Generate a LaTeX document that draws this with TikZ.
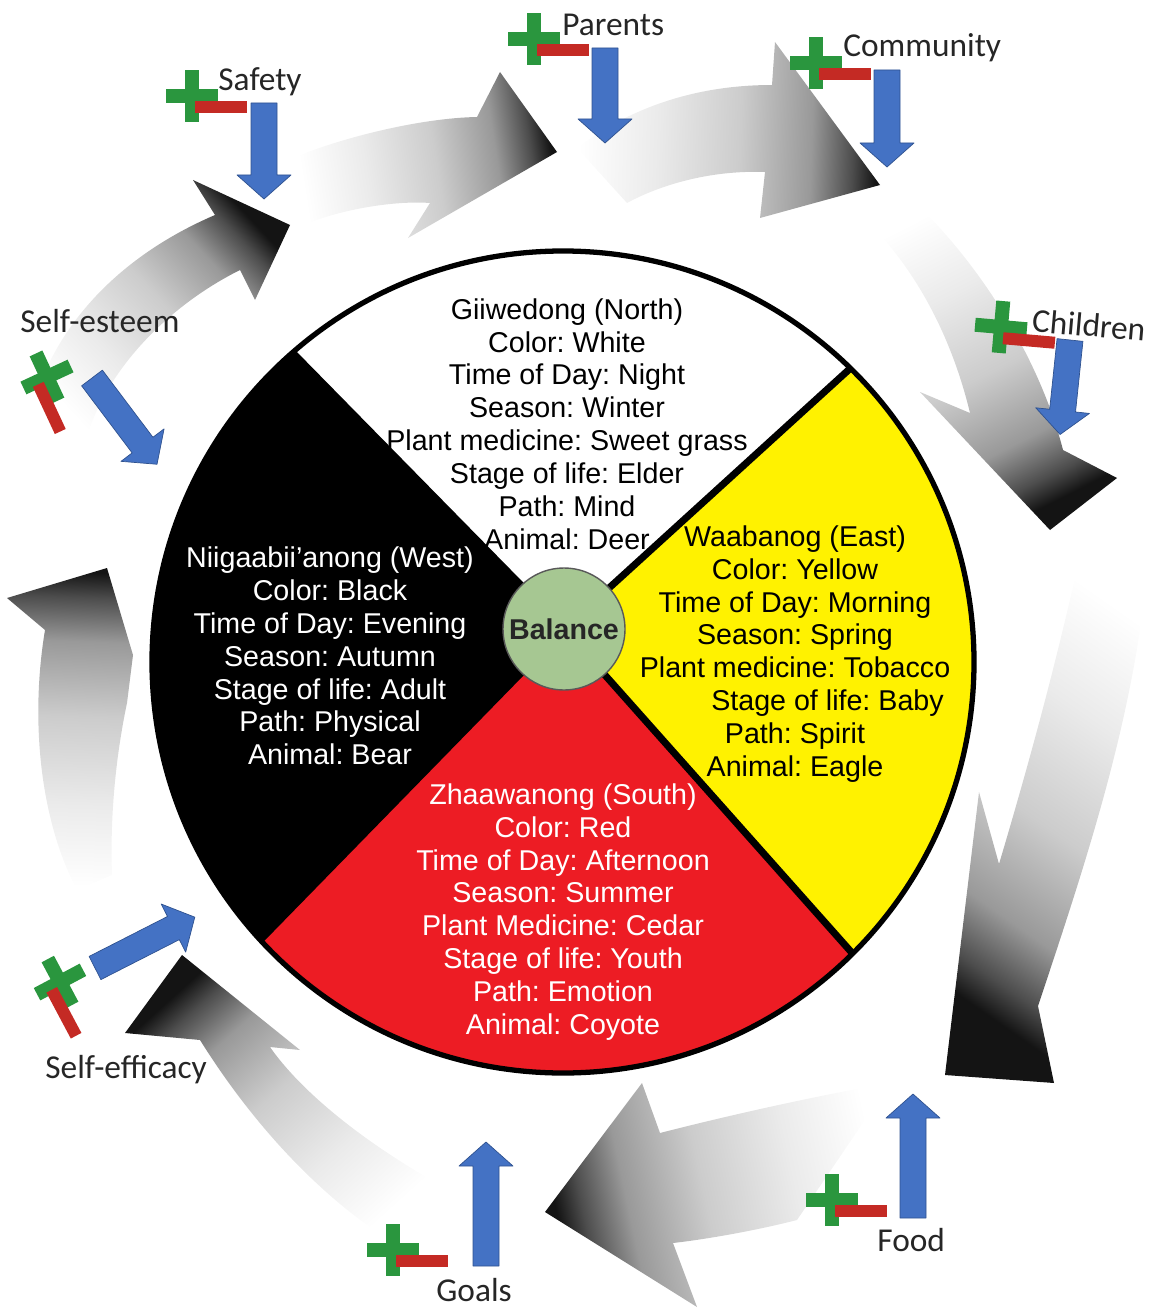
\documentclass[tikz,border=0pt]{standalone}
\usepackage{fontspec}
\setmainfont{Liberation Sans}
\newfontfamily\calibri{Carlito}
\frenchspacing
\usetikzlibrary{calc}

\definecolor{wheelred}{RGB}{237,28,36}
\definecolor{wheelyellow}{RGB}{255,242,0}
\definecolor{balgreen}{RGB}{166,199,146}
\definecolor{arrblue}{RGB}{68,114,196}
\definecolor{arrblueline}{RGB}{47,82,143}
\definecolor{plusgreen}{RGB}{42,150,62}
\definecolor{minusred}{RGB}{196,42,36}

\pgfdeclareverticalshading{ringshade}{100bp}{color(0bp)=(white); color(25bp)=(white); color(38bp)=(black!8); color(52bp)=(black!20); color(64bp)=(black!40); color(71bp)=(black!70); color(75bp)=(black!92); color(100bp)=(black!92)}

\tikzset{
  ringarrow/.style={shading=ringshade},
  wheeltext/.style={align=center, inner sep=0pt, font=\fontsize{16.3}{18.7}\selectfont},
  outerlabel/.style={inner sep=0pt, anchor=west, text=black!85, font=\calibri\fontsize{19}{22}\selectfont},
  pics/plusminus/.style={code={
    \fill[plusgreen] (-26,-7) rectangle (26,7);
    \fill[plusgreen] (-7,-26) rectangle (7,26);
    \fill[minusred] (3,5) rectangle (55,17);
  }},
  pics/bluearrow/.style={code={
    \filldraw[fill=arrblue, draw=arrblueline, line width=0.4pt]
      (0,-13) -- (#1-24,-13) -- (#1-24,-27) -- (#1,0) -- (#1-24,27) -- (#1-24,13) -- (0,13) -- cycle;
  }},
}

\begin{document}
\begin{tikzpicture}[x=0.02cm,y=-0.02cm,line join=round]
\useasboundingbox (0,0) rectangle (1152,1311);

% grey ring arrows
\shade[ringarrow,shading angle=-47] (25,440) .. controls (40,340) and (110,260) .. (215,215) -- (193,180) -- (290,225) -- (255,300) -- (240,270) .. controls (160,310) and (100,380) .. (85,445) -- cycle;
\shade[ringarrow,shading angle=-81] (293,158) .. controls (340,138) and (420,118) .. (477,117) -- (500,72) -- (557,152) -- (408,238) -- (430,203) .. controls (390,200) and (330,212) .. (300,227) -- cycle;
\shade[ringarrow,shading angle=-92] (577,148) .. controls (640,100) and (710,85) .. (772,85) -- (775,42) -- (880,185) -- (760,218) -- (765,172) .. controls (710,170) and (660,185) .. (627,203) -- cycle;
\shade[ringarrow,shading angle=-153] (900,188) .. controls (980,260) and (1040,360) .. (1063,450) -- (1117,478) -- (1050,530) -- (920,392) -- (970,413) .. controls (950,330) and (910,260) .. (860,215) -- cycle;
\shade[ringarrow,shading angle=145] (1085,532) .. controls (1060,650) and (1030,760) .. (999,864) -- (979,792) -- (945,1075) -- (1054,1083) -- (1038,1006) .. controls (1090,850) and (1140,700) .. (1150,536) -- cycle;
\shade[ringarrow,shading angle=102] (545,1212) -- (642,1083) -- (660,1133) .. controls (730,1115) and (820,1095) .. (890,1083) -- (797,1220) .. controls (750,1232) and (700,1240) .. (673,1243) -- (697,1307) -- cycle;
\shade[ringarrow,shading angle=42] (182,955) -- (125,1033) -- (200,1040) .. controls (250,1120) and (320,1200) .. (405,1250) -- (440,1185) .. controls (360,1140) and (300,1090) .. (270,1047) -- (300,1050) -- cycle;
\shade[ringarrow,shading angle=-2] (77,890) .. controls (40,820) and (30,720) .. (45,630) -- (7,598) -- (107,568) -- (133,655) -- (127,703) .. controls (115,760) and (110,820) .. (112,875) -- cycle;

% medicine wheel
\coordinate (bal) at (564,629);
\begin{scope}
\clip (563,662) circle [radius=411];
\fill[white] (bal) -- (-252,-202) -- (1401,-133) -- cycle;
\fill[wheelyellow] (bal) -- (1401,-133) -- (1407,1577) -- cycle;
\fill[wheelred] (bal) -- (1407,1577) -- (-312,1526) -- cycle;
\fill[black] (bal) -- (-312,1526) -- (-252,-202) -- cycle;
\draw[line width=4pt] (bal) -- (-252,-202);
\draw[line width=4pt] (bal) -- (1401,-133);
\draw[line width=4pt] (bal) -- (1407,1577);
\draw[line width=4pt] (bal) -- (-312,1526);
\end{scope}
\draw[line width=3pt] (563,662) circle [radius=411];

\node[wheeltext] (north) at (567,424) {Giiwedong (North)\\Color: White\\Time of Day: Night\\Season: Winter\\Plant medicine: Sweet grass\\Stage of life: Elder\\Path: Mind\\Animal: Deer};
\node[wheeltext,text=white] (west) at (330,656) {Niigaabii'anong (West)\\Color: Black\\Time of Day: Evening\\Season: Autumn\\Stage of life: Adult\\Path: Physical\\Animal: Bear};
\node[wheeltext] (east) at (795,654) {Waabanog (East)\\Color: Yellow\\Time of Day: Morning\\Season: Spring\\Plant medicine: Tobacco\\\hspace*{1.3cm}Stage of life: Baby\\Path: Spirit\\Animal: Eagle};
\node[wheeltext,text=white] (south) at (563,912) {Zhaawanong (South)\\Color: Red\\Time of Day: Afternoon\\Season: Summer\\Plant Medicine: Cedar\\Stage of life: Youth\\Path: Emotion\\Animal: Coyote};

\node[circle, fill=balgreen, draw=black!65, line width=0.8pt, minimum size=2.44cm, inner sep=0pt, font=\bfseries\fontsize{16.3}{18}\selectfont, text=black!85] (balance) at (bal) {Balance};

% influences
\pic[rotate=-90] at (264,103) {bluearrow=96};
\pic at (192,96) {plusminus};
\node[outerlabel] (safety) at (218,82) {Safety};

\pic[rotate=-90] at (605,48) {bluearrow=95};
\pic at (534,39) {plusminus};
\node[outerlabel] (parents) at (562,25) {Parents};

\pic[rotate=-90] at (887,70) {bluearrow=97};
\pic at (816,63) {plusminus};
\node[outerlabel] (community) at (843,48) {Community};

\pic[rotate=-96] at (1070,340) {bluearrow=95};
\pic[rotate=-5] at (1001,327) {plusminus};
\node[outerlabel,rotate=-5] (children) at (1032,320) {Children};

\pic[rotate=90] at (913,1218) {bluearrow=124};
\pic at (832,1200) {plusminus};
\node[outerlabel] (food) at (877,1240) {Food};

\pic[rotate=90] at (486,1266) {bluearrow=124};
\pic at (393,1250) {plusminus};
\node[outerlabel] (goals) at (436,1290) {Goals};

\pic[rotate=27] at (95,968) {bluearrow=112};
\pic[rotate=-62] at (60,982) {plusminus};
\node[outerlabel] (efficacy) at (45,1070) {Self-efficacy};

\pic[rotate=-53] at (92,378) {bluearrow=108};
\pic[rotate=-65] at (47,377) {plusminus};
\node[outerlabel] (esteem) at (20,321) {Self-esteem};
\end{tikzpicture}
\end{document}
